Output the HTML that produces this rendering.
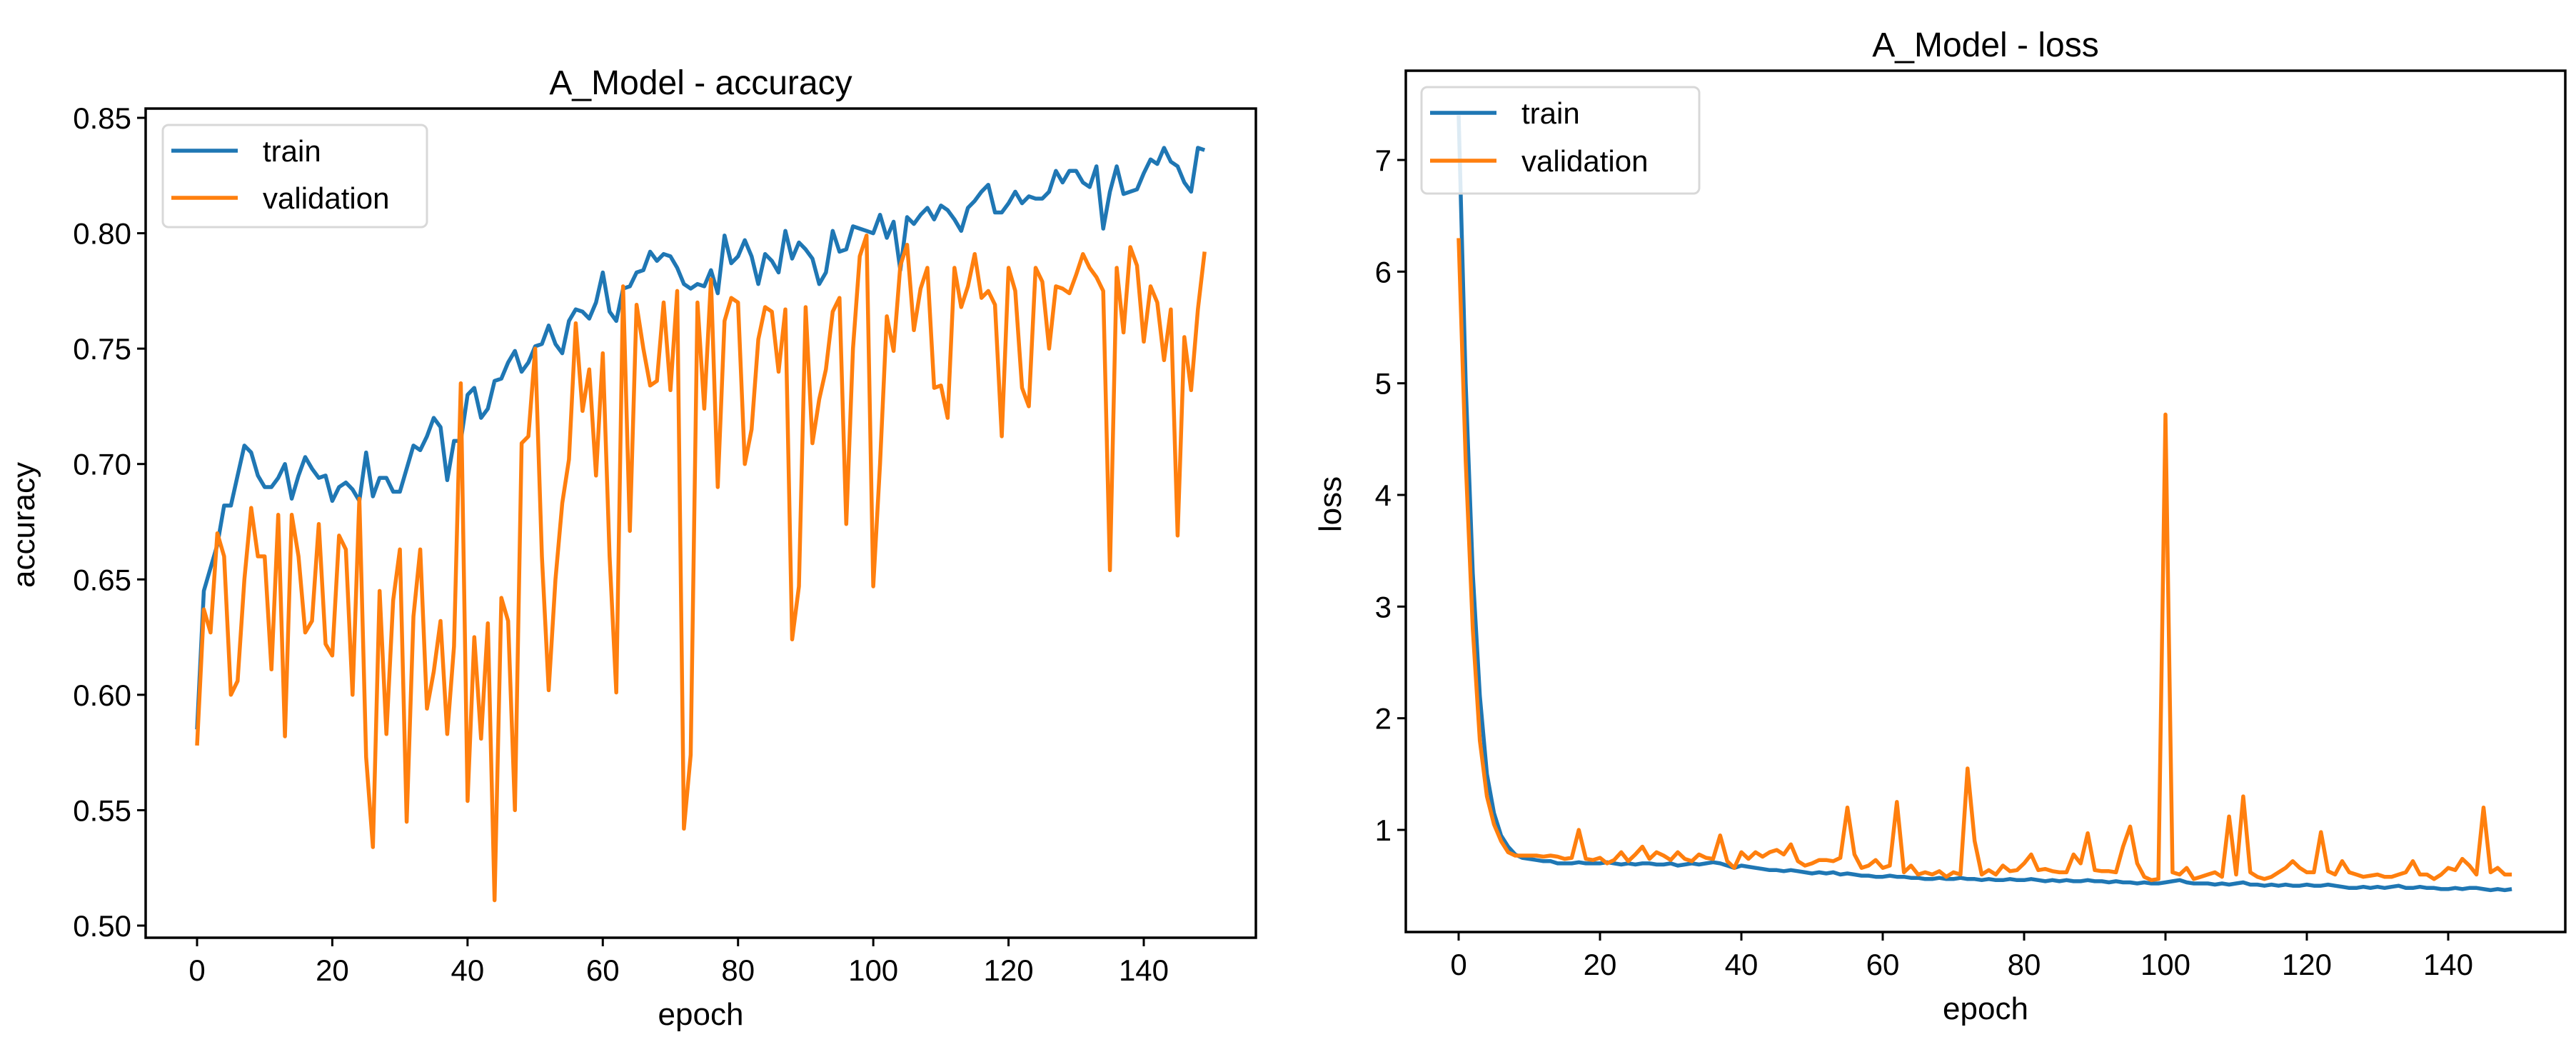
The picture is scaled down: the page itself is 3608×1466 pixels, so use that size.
<!DOCTYPE html>
<html><head><meta charset="utf-8"><style>
html,body{margin:0;padding:0;background:#fff;}
svg{display:block;font-family:"Liberation Sans","DejaVu Sans",sans-serif;}
</style></head><body>
<svg id="fig" width="3608" height="1466" viewBox="0 0 3608 1466" xmlns="http://www.w3.org/2000/svg"></svg>
<script>
const epochs = Array.from({length:150},(_,i)=>i);
const accTrain = [0.585,0.645,0.655,0.665,0.682,0.682,0.695,0.708,0.705,0.695,0.690,0.690,0.694,0.700,0.685,0.695,0.703,0.698,0.694,0.695,
0.684,0.690,0.692,0.689,0.684,0.705,0.686,0.694,0.694,0.688,0.688,0.698,0.708,0.706,0.712,0.720,0.716,0.693,0.710,0.710,
0.730,0.733,0.720,0.724,0.736,0.737,0.744,0.749,0.740,0.744,0.751,0.752,0.760,0.752,0.748,0.762,0.767,0.766,0.763,0.770,
0.783,0.766,0.762,0.776,0.777,0.783,0.784,0.792,0.788,0.791,0.790,0.785,0.778,0.776,0.778,0.777,0.784,0.774,0.799,0.787,
0.790,0.797,0.790,0.778,0.791,0.788,0.783,0.801,0.789,0.796,0.793,0.789,0.778,0.783,0.801,0.792,0.793,0.803,0.802,0.801,
0.800,0.808,0.798,0.805,0.784,0.807,0.804,0.808,0.811,0.806,0.812,0.810,0.806,0.801,0.811,0.814,0.818,0.821,0.809,0.809,
0.813,0.818,0.813,0.816,0.815,0.815,0.818,0.827,0.822,0.827,0.827,0.822,0.820,0.829,0.802,0.818,0.829,0.817,0.818,0.819,
0.826,0.832,0.830,0.837,0.831,0.829,0.822,0.818,0.837,0.836];
const accVal = [0.578,0.637,0.627,0.670,0.660,0.600,0.606,0.650,0.681,0.660,0.660,0.611,0.678,0.582,0.678,0.660,0.627,0.632,0.674,0.622,
0.617,0.669,0.663,0.600,0.685,0.573,0.534,0.645,0.583,0.641,0.663,0.545,0.634,0.663,0.594,0.610,0.632,0.583,0.621,0.735,
0.554,0.625,0.581,0.631,0.511,0.642,0.632,0.550,0.709,0.712,0.750,0.660,0.602,0.650,0.683,0.702,0.761,0.723,0.741,0.695,
0.748,0.660,0.601,0.777,0.671,0.769,0.750,0.734,0.736,0.770,0.732,0.775,0.542,0.574,0.770,0.724,0.780,0.690,0.762,0.772,
0.770,0.700,0.715,0.754,0.768,0.766,0.740,0.767,0.624,0.647,0.768,0.709,0.728,0.741,0.766,0.772,0.674,0.750,0.790,0.799,
0.647,0.700,0.764,0.749,0.786,0.795,0.758,0.776,0.785,0.733,0.734,0.720,0.785,0.768,0.777,0.791,0.772,0.775,0.769,0.712,
0.785,0.775,0.733,0.725,0.785,0.779,0.750,0.777,0.776,0.774,0.782,0.791,0.785,0.781,0.775,0.654,0.785,0.757,0.794,0.786,
0.753,0.777,0.770,0.745,0.767,0.669,0.755,0.732,0.767,0.792];
const lossTrain = [7.40,5.00,3.30,2.20,1.50,1.15,0.95,0.85,0.78,0.75,0.74,0.73,0.72,0.72,0.70,0.70,0.70,0.71,0.70,0.70,
0.70,0.71,0.70,0.69,0.70,0.69,0.70,0.70,0.69,0.69,0.70,0.68,0.69,0.70,0.69,0.70,0.71,0.70,0.68,0.66,
0.68,0.67,0.66,0.65,0.64,0.64,0.63,0.64,0.63,0.62,0.61,0.62,0.61,0.62,0.60,0.61,0.60,0.59,0.59,0.58,
0.58,0.59,0.58,0.58,0.57,0.57,0.56,0.56,0.57,0.56,0.56,0.57,0.56,0.56,0.55,0.56,0.55,0.55,0.56,0.55,
0.55,0.56,0.55,0.54,0.55,0.54,0.55,0.54,0.54,0.55,0.54,0.54,0.53,0.54,0.53,0.53,0.52,0.53,0.52,0.52,
0.53,0.54,0.55,0.53,0.52,0.52,0.52,0.51,0.52,0.51,0.52,0.53,0.51,0.51,0.50,0.51,0.50,0.51,0.50,0.50,
0.51,0.50,0.50,0.51,0.50,0.49,0.48,0.48,0.49,0.48,0.49,0.48,0.49,0.50,0.48,0.48,0.49,0.48,0.48,0.47,
0.47,0.48,0.47,0.48,0.48,0.47,0.46,0.47,0.46,0.47];
const lossVal = [6.30,4.30,2.80,1.80,1.30,1.05,0.90,0.80,0.77,0.77,0.77,0.77,0.76,0.77,0.76,0.74,0.75,1.00,0.74,0.73,
0.75,0.70,0.73,0.80,0.72,0.78,0.85,0.74,0.80,0.77,0.73,0.80,0.74,0.72,0.78,0.75,0.74,0.95,0.72,0.66,
0.80,0.74,0.80,0.76,0.80,0.82,0.78,0.87,0.72,0.68,0.70,0.73,0.73,0.72,0.75,1.20,0.78,0.66,0.68,0.73,
0.66,0.68,1.25,0.62,0.68,0.60,0.62,0.60,0.63,0.58,0.62,0.60,1.55,0.90,0.60,0.64,0.60,0.68,0.63,0.64,
0.70,0.78,0.64,0.65,0.63,0.62,0.62,0.78,0.70,0.97,0.64,0.63,0.63,0.62,0.85,1.03,0.70,0.58,0.55,0.56,
4.72,0.62,0.60,0.66,0.56,0.58,0.60,0.62,0.58,1.12,0.60,1.30,0.62,0.58,0.56,0.58,0.62,0.66,0.72,0.66,
0.62,0.62,0.98,0.63,0.60,0.72,0.62,0.60,0.58,0.59,0.60,0.58,0.58,0.60,0.62,0.72,0.60,0.60,0.56,0.60,
0.66,0.64,0.74,0.68,0.60,1.20,0.62,0.66,0.60,0.60];
const xTicks = [0,20,40,60,80,100,120,140];
const accTicks = [0.50,0.55,0.60,0.65,0.70,0.75,0.80,0.85];
const lossTicks = [1,2,3,4,5,6,7];

const NS="http://www.w3.org/2000/svg";
const svg=document.getElementById('fig');
function mk(tag,attrs,parent){const e=document.createElementNS(NS,tag);for(const k in attrs)e.setAttribute(k,attrs[k]);(parent||svg).appendChild(e);return e;}

function drawPanel(cfg){
  const g=mk('g',{});
  
  
  const xs=v=>cfg.x0px+(v-cfg.xv0)*(cfg.x1px-cfg.x0px)/(cfg.xv1-cfg.xv0);
  const ys=v=>cfg.y0px+(v-cfg.yv0)*(cfg.y1px-cfg.y0px)/(cfg.yv1-cfg.yv0);
  const series=[[cfg.train,'#1f77b4','train-line'],[cfg.val,'#ff7f0e','validation-line']];
  const clip=mk('clipPath',{id:cfg.name+'-clip'},g);
  mk('rect',{x:cfg.L,y:cfg.T,width:cfg.R-cfg.L,height:cfg.B-cfg.T},clip);
  series.forEach(([arr,col,nm])=>{
    const d=arr.map((v,i)=>(i?'L':'M')+xs(epochs[i]).toFixed(1)+' '+ys(v).toFixed(1)).join(' ');
    const p=mk('path',{d:d,fill:'none',stroke:col,'stroke-width':5.5,'stroke-linejoin':'round','clip-path':'url(#'+cfg.name+'-clip)'},g);
    
    
  });
  const box=mk('rect',{x:cfg.L,y:cfg.T,width:cfg.R-cfg.L,height:cfg.B-cfg.T,fill:'none',stroke:'#000','stroke-width':3.5},g);
  
  
  xTicks.forEach(t=>{
    const x=xs(t);
    mk('line',{x1:x,y1:cfg.B,x2:x,y2:cfg.B+12,stroke:'#000','stroke-width':3},g);
    const tx=mk('text',{x:x,y:cfg.B+60,'font-size':42,'text-anchor':'middle',fill:'#000'},g);
    tx.textContent=t;
    
    
  });
  cfg.yTicks.forEach(t=>{
    const y=ys(t);
    mk('line',{x1:cfg.L-12,y1:y,x2:cfg.L,y2:y,stroke:'#000','stroke-width':3},g);
    const ty=mk('text',{x:cfg.L-20,y:y+15,'font-size':42,'text-anchor':'end',fill:'#000'},g);
    ty.textContent=cfg.fmt(t);
    
    
  });
  const title=mk('text',{x:(cfg.L+cfg.R)/2,y:cfg.T-20,'font-size':48,'text-anchor':'middle',fill:'#000'},g);
  title.textContent=cfg.title;
  
  
  const xl=mk('text',{x:(cfg.L+cfg.R)/2,y:cfg.B+122,'font-size':44,'text-anchor':'middle',fill:'#000'},g);
  xl.textContent='epoch';
  
  
  const yl=mk('text',{x:cfg.ylx,y:cfg.yly,'font-size':44,'text-anchor':'middle',fill:'#000',transform:'rotate(-90 '+cfg.ylx+' '+cfg.yly+')'},g);
  yl.textContent=cfg.ylabel;
  
  
  const lg=mk('g',{},g);
  
  
  mk('rect',{x:cfg.lgx,y:cfg.lgy,width:cfg.lgw,height:cfg.lgh,rx:8,fill:'#fff','fill-opacity':0.85,stroke:'#d8d8d8','stroke-width':3},lg);
  [['train','#1f77b4',0],['validation','#ff7f0e',1]].forEach(([lab,col,i])=>{
    const yy=cfg.lgy+36+i*cfg.lgstep;
    const ln=mk('line',{x1:cfg.lgx+12,y1:yy,x2:cfg.lgx+105,y2:yy,stroke:col,'stroke-width':5.5},lg);
    
    
    const t=mk('text',{x:cfg.lgx+140,y:yy+15,'font-size':42,fill:'#000'},lg);
    t.textContent=lab;
    
    
  });
}

drawPanel({name:'accuracy-chart',L:204,R:1759,T:152,B:1313,
  x0px:276,x1px:1602,xv0:0,xv1:140,
  y0px:1296,y1px:165,yv0:0.50,yv1:0.85,
  train:accTrain,val:accVal,yTicks:accTicks,fmt:v=>v.toFixed(2),
  title:'A_Model - accuracy',ylabel:'accuracy',ylx:48,yly:735,
  lgx:228,lgy:175,lgw:370,lgh:143,lgstep:66});
drawPanel({name:'loss-chart',L:1969,R:3593,T:99,B:1305,
  x0px:2043,x1px:3429,xv0:0,xv1:140,
  y0px:1162,y1px:224,yv0:1,yv1:7,
  train:lossTrain,val:lossVal,yTicks:lossTicks,fmt:v=>String(v),
  title:'A_Model - loss',ylabel:'loss',ylx:1878,yly:706,
  lgx:1991,lgy:122,lgw:389,lgh:149,lgstep:67});
</script>
</body></html>
